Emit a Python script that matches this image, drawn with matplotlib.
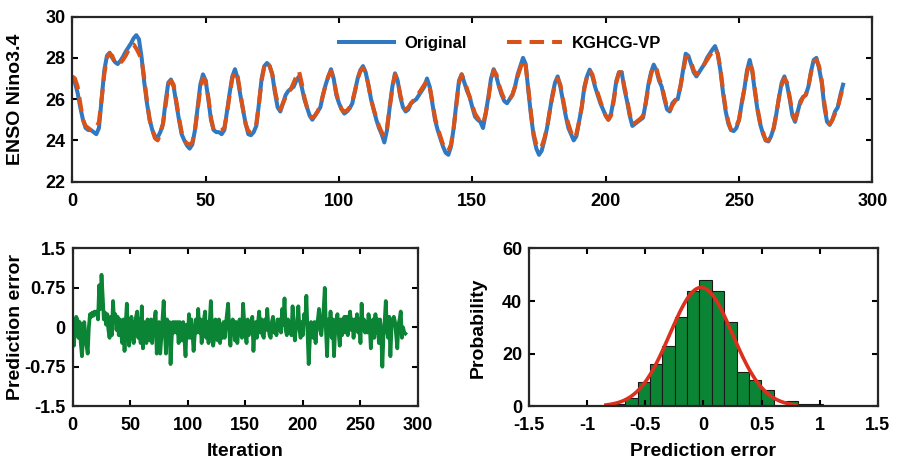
import numpy as np
import matplotlib
matplotlib.use('Agg')
import matplotlib.pyplot as plt

plt.rcParams['font.family'] = ['Liberation Sans', 'DejaVu Sans']
plt.rcParams['font.weight'] = 'bold'
plt.rcParams['axes.labelweight'] = 'bold'

# ENSO Nino3.4 series
original = [
    27.0, 26.8, 26.3, 25.6, 25.0, 24.6, 24.5, 24.5, 24.4, 24.3,
    24.6, 26.0, 27.4, 28.1, 28.25, 28.0, 27.8, 27.7, 27.85, 28.05,
    28.3, 28.5, 28.7, 28.95, 29.1, 28.9, 28.0, 26.8, 25.8, 25.0,
    24.5, 24.2, 24.15, 24.4, 24.8, 25.9, 26.8, 26.95, 26.6, 25.8,
    25.0, 24.3, 24.0, 23.75, 23.6, 23.8, 24.5, 25.6, 26.7, 27.2,
    26.9, 26.0, 25.0, 24.5, 24.4, 24.4, 24.3, 24.5, 25.4, 26.3,
    27.1, 27.45, 27.0, 26.2, 25.5, 24.8, 24.3, 24.25, 24.4, 24.7,
    25.8, 27.0, 27.6, 27.75, 27.6, 27.2, 26.3, 25.6, 25.4, 25.8,
    26.2, 26.4, 26.5, 26.6, 26.9, 27.1, 26.6, 26.0, 25.6, 25.2,
    25.0, 25.2, 25.4, 25.6, 26.2, 26.7, 27.1, 27.45, 27.0, 26.2,
    25.8, 25.5, 25.3, 25.4, 25.55, 25.8, 26.4, 27.0, 27.4, 27.6,
    27.3, 26.7, 26.0, 25.5, 25.0, 24.6, 24.3, 23.9, 24.5, 25.6,
    26.6, 27.25, 26.9, 26.1, 25.6, 25.4, 25.5, 25.8, 25.9, 26.0,
    26.2, 26.4, 26.6, 27.0, 26.6, 25.8, 25.0, 24.5, 24.1, 23.7,
    23.4, 23.3, 23.7, 24.6, 25.8, 26.9, 27.2, 26.8, 26.4, 26.1,
    25.6, 25.15, 25.0, 24.9, 24.6, 25.3, 26.1, 27.0, 27.45, 27.1,
    26.6, 26.2, 25.9, 25.8, 26.0, 26.2, 26.6, 27.2, 27.6, 28.0,
    27.7, 26.4, 25.2, 24.2, 23.6, 23.3, 23.5, 24.0, 24.6, 25.4,
    26.2, 26.8, 27.1, 26.6, 25.9, 25.2, 24.6, 24.3, 24.0, 24.2,
    24.9, 25.6, 26.6, 27.1, 27.43, 27.1, 26.6, 26.2, 25.8, 25.5,
    25.2, 25.0, 25.3, 26.0, 26.9, 27.3, 27.3, 26.5, 25.9, 25.2,
    24.7, 24.8, 24.9, 25.0, 25.1, 25.8, 26.7, 27.3, 27.67, 27.4,
    26.9, 26.6, 26.0, 25.5, 25.4, 25.8, 25.95, 26.0, 26.6, 27.4,
    28.2, 28.1, 27.7, 27.3, 27.1, 27.3, 27.5, 27.7, 28.0, 28.2,
    28.4, 28.57, 28.2, 27.4, 26.3, 25.4, 24.8, 24.5, 24.45, 24.6,
    25.0, 25.8, 26.5, 27.4, 27.9, 27.3, 26.3, 25.4, 24.75, 24.3,
    24.0, 23.95, 24.2, 24.6, 25.3, 26.1, 26.8, 27.1, 26.7, 26.0,
    25.2, 24.9, 25.4, 25.9, 26.1, 26.2, 26.6, 27.35, 27.9, 28.0,
    27.5, 26.8, 25.6, 24.9, 24.75, 25.0, 25.4, 25.6, 26.2, 26.7,
]

predicted = [
    27.1, 27.0, 26.6, 25.8, 25.0, 24.7, 24.6, 24.5, 24.55, 24.6,
    24.9, 26.0, 27.2, 28.0, 28.2, 28.1, 27.75, 27.7, 27.75, 27.9,
    28.1, 28.35, 28.6, 28.65, 28.45, 28.2, 27.9, 27.0, 25.9, 25.0,
    24.5, 24.1, 24.0, 24.3, 24.8, 25.7, 26.7, 26.9, 26.7, 25.9,
    25.1, 24.4, 24.0, 23.85, 23.8, 23.9, 24.5, 25.5, 26.5, 27.0,
    26.9, 26.1, 25.1, 24.5, 24.45, 24.5, 24.5, 24.6, 25.3, 26.2,
    27.0, 27.35, 27.1, 26.3, 25.5, 24.8, 24.45, 24.4, 24.5, 24.8,
    25.8, 26.9, 27.6, 27.8, 27.6, 27.2, 26.4, 25.8, 25.5, 25.8,
    26.1, 26.3, 26.5, 26.8, 27.1, 27.35, 26.8, 26.1, 25.6, 25.2,
    25.1, 25.2, 25.4, 25.7, 26.2, 26.7, 27.1, 27.35, 27.0, 26.3,
    25.8, 25.5, 25.4, 25.45, 25.6, 25.9, 26.4, 27.0, 27.35, 27.5,
    27.3, 26.7, 26.0, 25.5, 25.1, 24.7, 24.4, 24.2, 24.6, 25.6,
    26.5, 27.2, 26.9, 26.2, 25.7, 25.5, 25.6, 25.8, 25.95, 26.1,
    26.3, 26.5, 26.7, 26.9, 26.6, 25.9, 25.1, 24.6, 24.2, 23.8,
    23.55, 23.5, 23.8, 24.6, 25.7, 26.8, 27.2, 26.9, 26.5, 26.1,
    25.7, 25.3, 25.1, 24.9, 24.8, 25.3, 26.0, 26.9, 27.4, 27.2,
    26.7, 26.3, 26.0, 25.9, 26.0, 26.2, 26.6, 27.1, 27.5, 27.9,
    27.6, 26.5, 25.3, 24.3, 23.8, 23.6, 23.7, 24.1, 24.6, 25.4,
    26.1, 26.7, 27.0, 26.7, 26.0, 25.3, 24.8, 24.4, 24.1, 24.3,
    24.9, 25.6, 26.5, 27.1, 27.4, 27.2, 26.7, 26.3, 25.9, 25.5,
    25.2, 25.0, 25.2, 25.9, 26.8, 27.3, 27.3, 26.6, 26.0, 25.3,
    24.8, 24.85, 24.95, 25.05, 25.2, 25.8, 26.6, 27.2, 27.6, 27.5,
    27.0, 26.7, 26.1, 25.6, 25.4, 25.7, 25.9, 26.1, 26.6, 27.3,
    28.0, 28.05, 27.8, 27.4, 27.2, 27.3, 27.5, 27.7, 27.9, 28.1,
    28.3, 28.45, 28.2, 27.5, 26.4, 25.5, 24.9, 24.5, 24.5, 24.7,
    25.0, 25.8, 26.5, 27.3, 27.8, 27.4, 26.4, 25.5, 24.8, 24.4,
    24.0, 24.0, 24.2, 24.6, 25.3, 26.1, 26.7, 27.0, 26.8, 26.1,
    25.3, 25.0, 25.4, 25.8, 26.1, 26.2, 26.6, 27.3, 27.8, 27.9,
    27.6, 26.9, 25.8, 25.0, 24.8, 25.0, 25.3, 25.6, 26.1, 26.6,
]

pred_error = [
    -0.1, -0.35, 0.05, 0.2, 0.15, -0.2, 0.1, -0.3, -0.55, -0.2,
    0.1, -0.15, -0.35, -0.5, 0.0, 0.25, 0.2, 0.28, 0.22, 0.3,
    0.25, 0.3, 0.15, 0.8, 0.35, 1.0, 0.6, 0.15, 0.28, 0.05,
    0.25, -0.05, -0.2, 0.2, -0.15, 0.5, 0.1, 0.25, -0.05, 0.2,
    -0.15, 0.15, -0.1, -0.3, 0.15, -0.45, 0.05, 0.45, -0.1, -0.35,
    0.0, 0.2, -0.15, -0.3, 0.05, 0.2, 0.3, -0.2, 0.15, -0.3,
    0.4, -0.4, 0.1, -0.2, -0.3, 0.15, -0.05, -0.25, 0.15, -0.3,
    0.05, 0.15, 0.3, -0.5, 0.05, 0.1, -0.5, -0.2, 0.15, 0.5,
    -0.05, -0.5, 0.15, -0.1, 0.1, -0.7, -0.2, 0.1, -0.1, 0.1,
    -0.1, 0.1, -0.3, 0.1, -0.1, -0.25, 0.1, -0.2, -0.55, 0.05,
    -0.2, 0.25, -0.2, 0.15, -0.1, -0.45, -0.15, 0.15, -0.1, 0.35,
    -0.1, 0.15, -0.3, 0.05, 0.15, 0.3, -0.2, 0.1, -0.3, 0.1,
    0.5, -0.05, -0.35, -0.2, 0.15, -0.05, -0.25, 0.15, -0.3, 0.05,
    -0.2, 0.1, -0.2, 0.05, 0.25, 0.45, -0.1, -0.35, 0.05, 0.15,
    0.1, -0.25, 0.1, -0.3, -0.05, 0.15, -0.05, -0.2, 0.45, 0.1,
    -0.1, -0.3, 0.15, -0.15, 0.1, -0.05, 0.2, -0.45, -0.05, 0.1,
    -0.2, 0.1, 0.3, -0.1, 0.15, -0.15, -0.2, 0.15, -0.05, 0.35,
    0.0, -0.15, -0.2, 0.1, 0.2, -0.1, 0.05, -0.15, 0.15, -0.05,
    0.15, -0.1, 0.35, 0.05, 0.55, -0.05, -0.15, 0.15, -0.1, 0.1,
    -0.15, 0.4, 0.05, -0.25, 0.05, 0.1, 0.4, -0.05, -0.2, 0.1,
    -0.15, 0.25, 0.1, 0.6, -0.1, -0.7, -0.25, 0.1, -0.05, -0.2,
    0.1, -0.3, 0.05, 0.15, 0.35, -0.05, -0.15, 0.1, 0.35, 0.75,
    -0.05, -0.55, 0.15, -0.1, 0.3, -0.2, 0.15, -0.55, -0.05, 0.15,
    0.25, -0.1, -0.35, 0.15, -0.15, 0.05, 0.2, -0.1, 0.2, -0.15,
    0.15, 0.3, -0.05, 0.15, -0.2, 0.15, -0.05, 0.25, -0.1, 0.15,
    -0.3, 0.45, -0.05, 0.15, -0.1, 0.1, -0.1, 0.25, 0.05, -0.4,
    -0.05, 0.15, -0.2, 0.25, -0.1, 0.15, -0.3, 0.15, -0.1, -0.75,
    -0.15, 0.1, 0.5, -0.05, -0.2, 0.2, -0.55, 0.0, 0.15, 0.2,
    0.1, -0.15, -0.4, 0.05, 0.15, 0.3, -0.2, 0.0, -0.1, -0.12,
]

# histogram of prediction error (counts per bin)
hist_left = -0.78
hist_width = 0.1065
hist_counts = [1, 3, 9, 16, 23, 34, 44, 48, 44, 32, 13, 10, 6, 0, 2, 1, 1]
# normal fit
fit_mu = -0.02
fit_sigma = 0.27

blue = '#3079c2'
orange = '#d95319'
green = '#0b8535'
red = '#dc2f1e'

fig = plt.figure(figsize=(8.98, 4.61), dpi=100)
ax1 = fig.add_axes([0.0805, 0.606, 0.891, 0.358])
ax2 = fig.add_axes([0.081, 0.119, 0.3845, 0.342])
ax3 = fig.add_axes([0.5894, 0.119, 0.388, 0.342])

t = np.arange(len(original))
ax1.plot(t, original, color=blue, lw=2.9, label='Original')
ax1.plot(t, predicted, color=orange, lw=2.9, ls=(0, (3.6, 2.0)), label='KGHCG-VP')
ax1.set_xlim(0, 300)
ax1.set_ylim(22, 30)
ax1.set_xticks(range(0, 301, 50))
ax1.set_yticks(range(22, 31, 2))
ax1.set_ylabel('ENSO Nino3.4', fontsize=14)
ax1.yaxis.set_label_coords(-0.0716, 0.5)
ax1.legend(loc='center', bbox_to_anchor=(0.535, 0.835), ncol=2, frameon=False,
           fontsize=12, handlelength=3.3, columnspacing=2.4, handletextpad=0.6)

ax2.plot(np.arange(len(pred_error)), pred_error, color=green, lw=2.7)
ax2.set_xlim(0, 300)
ax2.set_ylim(-1.5, 1.5)
ax2.set_xticks(range(0, 301, 50))
ax2.set_yticks([-1.5, -0.75, 0, 0.75, 1.5])
ax2.set_yticklabels(['-1.5', '-0.75', '0', '0.75', '1.5'])
ax2.set_xlabel('Iteration', fontsize=14)
ax2.set_ylabel('Prediction error', fontsize=14)
ax2.xaxis.set_label_coords(0.5, -0.285)
ax2.yaxis.set_label_coords(-0.167, 0.5)

lefts = hist_left + hist_width * np.arange(len(hist_counts))
ax3.bar(lefts, hist_counts, width=hist_width, align='edge', color=green,
        edgecolor='#1a1a1a', linewidth=0.8)
xf = np.linspace(-0.84, 0.8, 200)
yf = sum(hist_counts) * hist_width / (fit_sigma * np.sqrt(2 * np.pi)) * \
    np.exp(-0.5 * ((xf - fit_mu) / fit_sigma) ** 2)
ax3.plot(xf, yf, color=red, lw=2.6)
ax3.set_xlim(-1.5, 1.5)
ax3.set_ylim(0, 60)
ax3.set_xticks([-1.5, -1, -0.5, 0, 0.5, 1, 1.5])
ax3.set_xticklabels(['-1.5', '-1', '-0.5', '0', '0.5', '1', '1.5'])
ax3.set_yticks([0, 20, 40, 60])
ax3.set_xlabel('Prediction error', fontsize=14)
ax3.set_ylabel('Probability', fontsize=14)
ax3.xaxis.set_label_coords(0.5, -0.285)
ax3.yaxis.set_label_coords(-0.147, 0.5)

for ax in (ax1, ax2, ax3):
    ax.tick_params(direction='in', top=True, right=True, length=4, width=1.5,
                   labelsize=13, pad=5)
    ax.tick_params(axis='x', pad=8)
    ax.xaxis.label.set_verticalalignment('center')
    ax.yaxis.label.set_verticalalignment('center')
    for s in ax.spines.values():
        s.set_linewidth(1.6)
        s.set_color('#262626')
    for lab in ax.get_xticklabels() + ax.get_yticklabels():
        lab.set_fontweight('bold')

fig.savefig('out.png', dpi=100)
